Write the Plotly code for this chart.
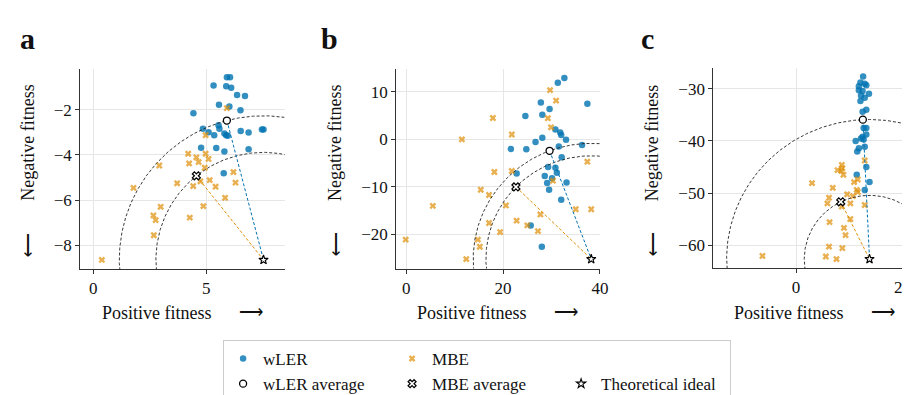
import numpy as np
import plotly.graph_objects as go

# ---------------- data ----------------
# Panel a
a_wler_x = [5.91, 6.05, 5.32, 5.88, 6.10, 6.36, 6.71, 5.56, 6.02, 6.51, 4.43, 4.85, 5.10, 5.54,
            5.58, 5.35, 5.80, 5.88, 5.95, 6.52, 6.87, 7.46, 7.53, 4.77, 5.44, 5.80, 6.87, 5.77]
a_wler_y = [-0.56, -0.56, -0.93, -0.96, -1.03, -1.35, -1.39, -1.78, -1.86, -2.03, -2.16, -2.84, -3.00, -2.69,
            -2.84, -3.13, -3.05, -3.13, -3.15, -2.94, -3.01, -2.88, -2.88, -3.69, -3.70, -3.85, -3.75, -4.81]
a_mbe_x = [5.91, 4.97, 4.20, 4.97, 4.56, 5.10, 4.24, 4.66, 2.92, 4.93, 6.20, 3.71, 4.74, 5.15,
           4.42, 5.41, 6.29, 1.78, 5.83, 2.98, 4.87, 2.66, 2.76, 4.27, 2.68, 0.38]
a_mbe_y = [-1.93, -3.13, -3.95, -3.95, -4.11, -4.18, -4.38, -4.32, -4.47, -4.57, -4.76, -5.26, -5.17, -5.12,
           -5.38, -5.41, -5.23, -5.46, -5.90, -6.30, -6.27, -6.68, -6.89, -6.78, -7.56, -8.65]
a_wler_avg = [5.91, -2.48]
a_mbe_avg = [4.56, -4.93]

# Panel b
b_wler_x = [32.65, 31.3, 27.8, 37.4, 29.6, 28.1, 24.6, 30.8, 31.8, 32.0, 28.1, 33.0, 26.7, 21.6, 24.8,
            31.5, 36.3, 32.1, 22.8, 29.3, 30.8, 31.1, 28.6, 30.1, 29.1, 33.1, 29.5, 32.0, 25.7, 28.0]
b_wler_y = [12.9, 11.9, 7.75, 7.5, 6.4, 5.2, 4.9, 2.06, 1.44, 0.9, 0.34, -0.07, -0.55, -2.0, -2.06,
            -1.5, -1.17, -3.77, -7.2, -5.8, -5.97, -7.0, -7.7, -8.2, -9.2, -9.05, -10.6, -12.7, -18.1, -22.6]
b_mbe_x = [29.7, 30.95, 17.9, 29.25, 29.9, 21.8, 11.5, 37.4, 18.2, 21.8, 30.3, 15.4, 17.1, 5.5,
           20.6, 35.0, 38.2, 27.7, 22.8, 17.1, 25.0, 27.2, 19.4, -0.1, 14.8, 15.2, 12.4]
b_mbe_y = [10.36, 8.16, 4.5, 4.46, 2.54, 1.03, 0.0, -4.7, -6.86, -6.65, -8.7, -10.6, -11.7, -14.0,
           -13.9, -14.7, -14.7, -15.8, -17.1, -17.6, -18.1, -19.3, -19.5, -21.1, -21.1, -22.6, -25.2]
b_wler_avg = [29.6, -2.4]
b_mbe_avg = [22.65, -10.0]

# Panel c
c_wler_x = [12.6, 12.1, 12.9, 11.8, 13.2, 11.8, 12.5, 13.7, 12.2, 12.9, 12.1, 13.2, 12.5,
            12.7, 13.2, 13.2, 12.5, 12.2, 11.2, 12.7, 11.8, 11.5, 12.9, 13.2, 11.4, 13.8, 12.9]
c_wler_y = [-27.6, -28.75, -29.0, -29.5, -29.3, -30.25, -30.4, -30.9, -31.25, -31.7, -32.3, -34.0, -34.4,
            -37.5, -37.5, -38.75, -39.2, -39.5, -40.0, -39.7, -41.4, -42.0, -41.1, -45.0, -46.5, -47.9, -49.4]
c_mbe_x = [12.9, 8.6, 8.7, 7.8, 8.5, 8.9, 11.6, 10.9, 3.0, 6.9, 11.4, 11.6, 9.6, 10.7,
           6.2, 5.9, 10.2, 8.6, 12.9, 10.2, 6.3, 9.0, 9.3, 6.2, 8.7, -6.3, 5.6, 7.6]
c_mbe_y = [-43.75, -44.6, -45.25, -45.6, -45.75, -46.5, -47.4, -47.9, -48.1, -49.0, -49.4, -49.8, -50.25, -50.6,
           -50.9, -52.0, -52.0, -52.6, -52.3, -55.0, -55.6, -56.7, -58.1, -60.3, -60.6, -62.1, -62.2, -62.7]
c_wler_avg = [12.55, -35.9]
c_mbe_avg = [8.4, -51.7]

panel_labels = ["a", "b", "c"]
x_ticks = [[0, 5], [0, 20, 40], [0, 20]]
y_ticks = [[-8, -6, -4, -2], [-20, -10, 0, 10], [-60, -50, -40, -30]]

# ---------------- style ----------------
W, H = 910, 395
BLUE = "#0173b2"
ORANGE = "#de8f05"
FONT = "Liberation Serif, Times New Roman, serif"

panels = [
    dict(wx=a_wler_x, wy=a_wler_y, mx=a_mbe_x, my=a_mbe_y, wa=a_wler_avg, ma=a_mbe_avg,
         px=(73, 279), py=(62, 267), xr=[-0.57, 8.46], yr=[-9.05, -0.18]),
    dict(wx=b_wler_x, wy=b_wler_y, mx=b_mbe_x, my=b_mbe_y, wa=b_wler_avg, ma=b_mbe_avg,
         px=(391.7, 597.7), py=(62, 266.7), xr=[-2.05, 40.1], yr=[-27.2, 14.9]),
    dict(wx=c_wler_x, wy=c_wler_y, mx=c_mbe_x, my=c_mbe_y, wa=c_wler_avg, ma=c_mbe_avg,
         px=(711.7, 910), py=(61, 266), xr=[-15.5, 21.4], yr=[-64.4, -25.9]),
]

fig = go.Figure()
annotations = []
layout_axes = {}


def pxx(x):
    return x / W


def pxy(y):
    return 1 - y / H


theta = np.linspace(0, 2 * np.pi, 721)

for i, p in enumerate(panels):
    k = "" if i == 0 else str(i + 1)
    xa, ya = "x" + k, "y" + k
    first = i == 0
    ideal_x = max(max(p["wx"]), max(p["mx"]))
    ideal_y = min(min(p["wy"]), min(p["my"]))

    fig.add_trace(go.Scatter(x=p["wx"], y=p["wy"], mode="markers", name="wLER",
                             legendgroup="g1", showlegend=first,
                             marker=dict(color=BLUE, size=6.5, opacity=0.8, line=dict(width=0)),
                             xaxis=xa, yaxis=ya))
    fig.add_trace(go.Scatter(x=p["mx"], y=p["my"], mode="markers", name="MBE",
                             legendgroup="g2", showlegend=first,
                             marker=dict(color=ORANGE, size=6, symbol="x", opacity=0.7, line=dict(width=0)),
                             xaxis=xa, yaxis=ya))
    # circles centered on the ideal through each average
    for avg in (p["wa"], p["ma"]):
        r = np.hypot(avg[0] - ideal_x, avg[1] - ideal_y)
        fig.add_trace(go.Scatter(x=ideal_x + r * np.cos(theta), y=ideal_y + r * np.sin(theta),
                                 mode="lines", showlegend=False, hoverinfo="skip",
                                 line=dict(color="#222222", width=0.9, dash="3px,2px"),
                                 xaxis=xa, yaxis=ya))
    # lines average -> ideal
    for avg, col in ((p["wa"], BLUE), (p["ma"], ORANGE)):
        fig.add_trace(go.Scatter(x=[avg[0], ideal_x], y=[avg[1], ideal_y], mode="lines",
                                 showlegend=False, hoverinfo="skip",
                                 line=dict(color=col, width=1, dash="3px,2px"),
                                 xaxis=xa, yaxis=ya))
    fig.add_trace(go.Scatter(x=[p["wa"][0]], y=[p["wa"][1]], mode="markers", name="wLER average",
                             legendgroup="g1", showlegend=first,
                             marker=dict(color="white", size=7, symbol="circle",
                                         line=dict(color="black", width=1.3)),
                             xaxis=xa, yaxis=ya))
    fig.add_trace(go.Scatter(x=[p["ma"][0]], y=[p["ma"][1]], mode="markers", name="MBE average",
                             legendgroup="g2", showlegend=first,
                             marker=dict(color="white", size=7, symbol="x",
                                         line=dict(color="black", width=1.3)),
                             xaxis=xa, yaxis=ya))
    if first:
        # empty legend slot so that "Theoretical ideal" sits in the second row
        fig.add_trace(go.Scatter(x=[None], y=[None], mode="markers", name=" ",
                                 legendgroup="g3", showlegend=True, hoverinfo="skip",
                                 marker=dict(color="rgba(0,0,0,0)", size=1),
                                 xaxis=xa, yaxis=ya))
    fig.add_trace(go.Scatter(x=[ideal_x], y=[ideal_y], mode="markers", name="Theoretical ideal",
                             legendgroup="g3", showlegend=first,
                             marker=dict(color="white", size=7, symbol="star",
                                         line=dict(color="black", width=1.1)),
                             xaxis=xa, yaxis=ya))

    axis_common = dict(showline=True, linecolor="#333333", linewidth=1.2, ticks="outside",
                       ticklen=4, tickcolor="#333333", showgrid=True, gridcolor="#e6e6e6",
                       gridwidth=1, zeroline=False,
                       tickfont=dict(family=FONT, size=17, color="#111111"))
    layout_axes["xaxis" + k] = dict(axis_common, domain=[pxx(p["px"][0]), pxx(p["px"][1])],
                                    range=p["xr"], tickvals=x_ticks[i], anchor=ya)
    layout_axes["yaxis" + k] = dict(axis_common, domain=[pxy(p["py"][1]), pxy(p["py"][0])],
                                    range=p["yr"], tickvals=y_ticks[i], anchor=xa)

# text annotations (panel letters, axis titles and arrows)
label_pos = [(20, 31), (324, 31), (645, 31)]
ytitle_x = [20, 330, 650]
xtitle_c = [150, 468, 788]
xarrow_c = [245, 563, 883]
for i in range(3):
    annotations.append(dict(text="<b>%s</b>" % panel_labels[i], x=pxx(label_pos[i][0]), y=pxy(label_pos[i][1]),
                            xref="paper", yref="paper", showarrow=False, xanchor="center", yanchor="middle",
                            font=dict(family=FONT, size=30, color="#111111")))
    annotations.append(dict(text="Negative fitness", x=pxx(ytitle_x[i]), y=pxy(138), textangle=-90,
                            xref="paper", yref="paper", showarrow=False, xanchor="center", yanchor="middle",
                            font=dict(family=FONT, size=18, color="#111111")))
    annotations.append(dict(text="⟶", x=pxx(ytitle_x[i]), y=pxy(242), textangle=90,
                            xref="paper", yref="paper", showarrow=False, xanchor="center", yanchor="middle",
                            font=dict(family=FONT, size=17, color="#111111")))
    annotations.append(dict(text="Positive fitness", x=pxx(xtitle_c[i]), y=pxy(312),
                            xref="paper", yref="paper", showarrow=False, xanchor="center", yanchor="middle",
                            font=dict(family=FONT, size=18, color="#111111")))
    annotations.append(dict(text="⟶", x=pxx(xarrow_c[i]), y=pxy(312),
                            xref="paper", yref="paper", showarrow=False, xanchor="center", yanchor="middle",
                            font=dict(family=FONT, size=17, color="#111111")))

fig.update_layout(
    width=W, height=H,
    margin=dict(l=0, r=0, t=0, b=0),
    paper_bgcolor="white", plot_bgcolor="white",
    showlegend=True,
    legend=dict(orientation="h", x=pxx(217), y=pxy(340), xanchor="left", yanchor="top",
                traceorder="grouped", entrywidth=124, entrywidthmode="pixels",
                bgcolor="white", bordercolor="#cccccc", borderwidth=1,
                font=dict(family=FONT, size=17, color="#111111")),
    annotations=annotations,
    **layout_axes,
)

fig.write_html("out.html")
